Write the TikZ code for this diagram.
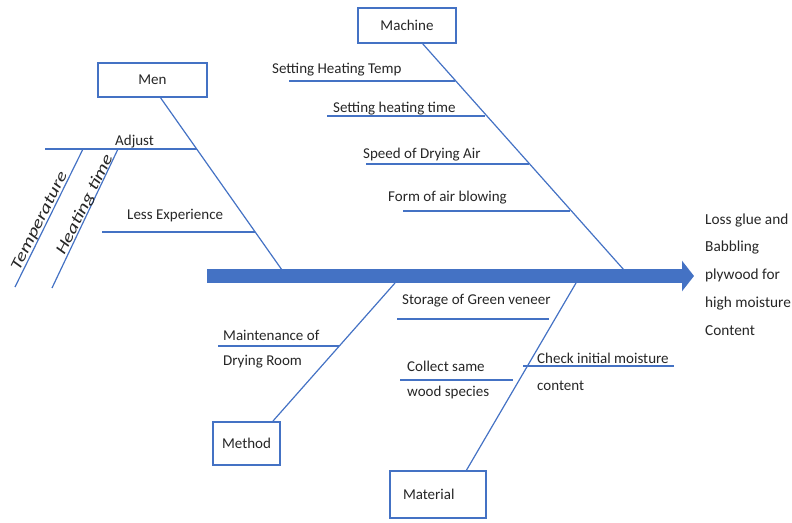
\documentclass[tikz,border=0pt]{standalone}
\usepackage{fontspec}
\setmainfont{Carlito}
\usetikzlibrary{arrows.meta,calc}
\definecolor{bonec}{HTML}{4472C4}
\definecolor{txt}{HTML}{262626}
\begin{document}
\begin{tikzpicture}[x=1pt,y=-1pt,
  bone/.style={draw=bonec, line width=1.2pt},
  catbox/.style={draw=bonec, line width=1.2pt, fill=white, inner sep=0pt, font=\fontsize{15}{18}\selectfont, text=txt},
  lbl/.style={inner sep=0pt, anchor=base west, font=\fontsize{15}{25}\selectfont, text=txt, align=left},
  rotlbl/.style={inner sep=0pt, font=\fontsize{16}{18}\selectfont\itshape, text=txt, rotate=63.5}]
\useasboundingbox (0,0) rectangle (792,522);

% main arrow
\coordinate (tail) at (207,276);
\coordinate (head) at (694,276);
\draw[draw=bonec, line width=14pt, -{Triangle[length=12pt,width=30pt]}] (tail) -- (head);

% category boxes
\node[catbox, minimum width=109pt, minimum height=34pt] (men) at (152.5,80) {Men};
\node[catbox, minimum width=98pt, minimum height=35pt] (machine) at (407,25.5) {Machine};
\node[catbox, minimum width=67pt, minimum height=43pt] (method) at (246.5,443.5) {Method};
\node[catbox, minimum width=96pt, minimum height=47pt, text width=70pt, align=left] (material) at (438,494.5) {Material};

% spines
\coordinate (menA) at (160,97);   \coordinate (menB) at (282,270);
\coordinate (macA) at (422,43);   \coordinate (macB) at (624,270);
\coordinate (metA) at (273,421);  \coordinate (metB) at (395,283);
\coordinate (matA) at (466,471);  \coordinate (matB) at (576,283);
\draw[bone] (menA) -- (menB);
\draw[bone] (macA) -- (macB);
\draw[bone] (metA) -- (metB);
\draw[bone] (matA) -- (matB);

% Men bones
\coordinate (adjL) at (45,149);   \coordinate (adjR) at (197,149);
\coordinate (lexL) at (102,232);  \coordinate (lexR) at (255,232);
\coordinate (tmpT) at (83,149);   \coordinate (tmpB) at (15,287);
\coordinate (htT) at (118,149);   \coordinate (htB) at (52,288);
\draw[bone] (adjL) -- (adjR);
\draw[bone] (lexL) -- (lexR);
\draw[bone] (tmpT) -- (tmpB);
\draw[bone] (htT) -- (htB);
\node[lbl] (adjust) at (115,145) {Adjust};
\node[lbl] (lessexp) at (127,219) {Less Experience};
\node[rotlbl] (temp) at (40,221) {\scalebox{1.3}[1]{Temperature}};
\node[rotlbl] (htime) at (85,205) {\scalebox{1.3}[1]{Heating time}};

% Machine bones
\coordinate (m1L) at (289,81);   \coordinate (m1R) at (455,81);
\coordinate (m2L) at (327,116);  \coordinate (m2R) at (485,116);
\coordinate (m3L) at (366,164);  \coordinate (m3R) at (529,164);
\coordinate (m4L) at (403,211);  \coordinate (m4R) at (570,211);
\draw[bone] (m1L) -- (m1R);
\draw[bone] (m2L) -- (m2R);
\draw[bone] (m3L) -- (m3R);
\draw[bone] (m4L) -- (m4R);
\node[lbl] (sht) at (272,73) {Setting Heating Temp};
\node[lbl] (sht2) at (333,112) {Setting heating time};
\node[lbl] (sda) at (363,158) {Speed of Drying Air};
\node[lbl] (fab) at (388,201) {Form of air blowing};

% Method bones
\coordinate (meL) at (218,346);  \coordinate (meR) at (339,346);
\draw[bone] (meL) -- (meR);
\node[lbl] (maint) at (223,365) {Maintenance of\\Drying Room};

% Material bones
\coordinate (s1L) at (397,319);  \coordinate (s1R) at (549,319);
\coordinate (s2L) at (400,380);  \coordinate (s2R) at (513,380);
\coordinate (s3L) at (523,366);  \coordinate (s3R) at (674,366);
\draw[bone] (s1L) -- (s1R);
\draw[bone] (s2L) -- (s2R);
\draw[bone] (s3L) -- (s3R);
\node[lbl] (storage) at (402,304) {Storage of Green veneer};
\node[lbl] (collect) at (407,396) {Collect same\\wood species};
\node[lbl, font=\fontsize{15}{27}\selectfont] (check) at (537,390) {Check initial moisture\\content};

% effect
\node[lbl, font=\fontsize{15.3}{27.75}\selectfont] (effect) at (705,335) {Loss glue and\\Babbling\\plywood for\\high moisture\\Content};
\end{tikzpicture}
\end{document}
